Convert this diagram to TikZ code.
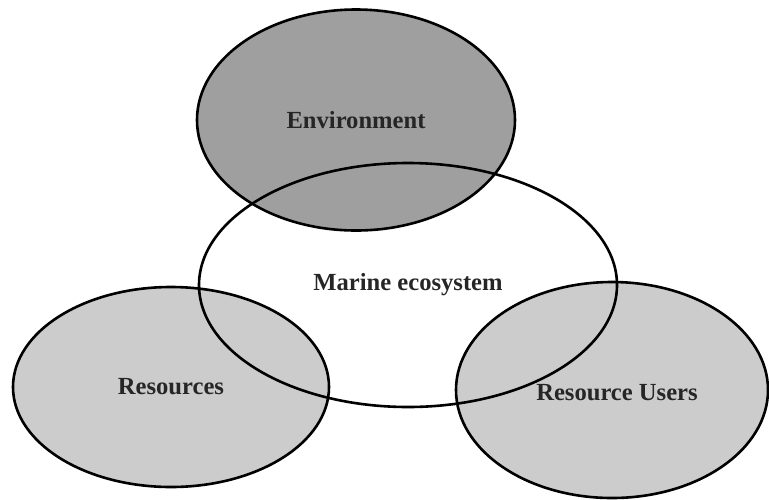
\documentclass[tikz,border=0pt]{standalone}
\usepackage{fontspec}
\setmainfont{Liberation Serif}
\usetikzlibrary{shapes.geometric}
\definecolor{envgray}{HTML}{9F9F9F}
\definecolor{usegray}{HTML}{CCCCCC}
\begin{document}
\begin{tikzpicture}[x=0.5pt,y=-0.5pt,
  blob/.style={ellipse,draw=black,line width=1.3pt,inner sep=0pt,
    font=\bfseries\fontsize{12.3}{14}\selectfont,text=black!85}]
\useasboundingbox (0,0) rectangle (769,499);
% the three outer sets
\node[blob,fill=envgray,minimum width=159pt,minimum height=110.5pt] (env) at (356,120) {Environment};
\node[blob,fill=usegray,minimum width=158pt,minimum height=100pt] (res) at (171,387) {Resources};
\node[blob,fill=usegray,minimum width=156pt,minimum height=108pt] (users) at (612,390) {};
\node[align=center,font=\bfseries\fontsize{12.3}{14}\selectfont,text=black!85] (userstext) at (617,393) {Resource Users};
% the middle set, outline only
\node[blob,minimum width=209pt,minimum height=122pt] (marine) at (408,285) {Marine ecosystem};
\end{tikzpicture}
\end{document}
